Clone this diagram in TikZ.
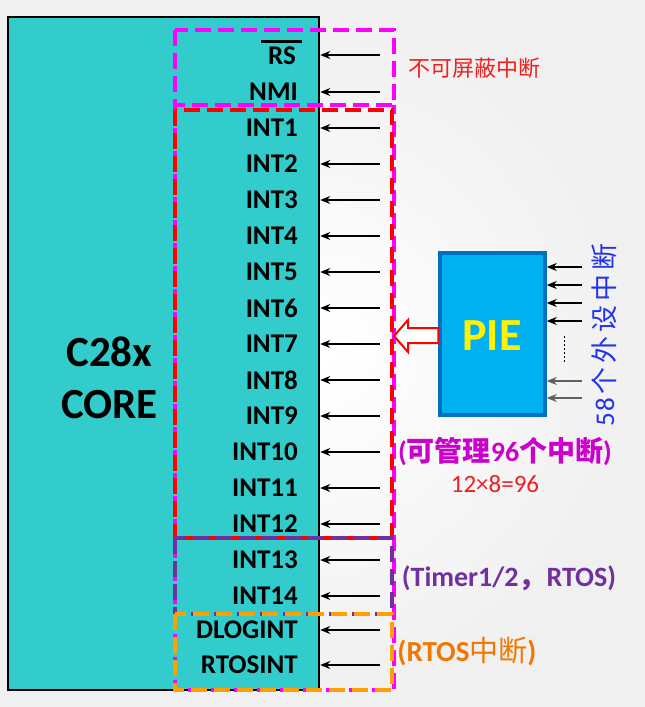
\documentclass[tikz,border=0pt]{standalone}
\usepackage{fontspec}
\setmainfont{Carlito}
\newfontfamily\cjk{Noto Sans CJK SC}
\usetikzlibrary{arrows.meta,calc}
\definecolor{teal28}{HTML}{33CCCC}
\definecolor{piefill}{HTML}{00B0F0}
\definecolor{pieedge}{HTML}{0070C0}
\definecolor{magc}{HTML}{FF00FF}
\definecolor{redc}{HTML}{FF0000}
\definecolor{purc}{HTML}{7030A0}
\definecolor{orgc}{HTML}{FFA000}
\definecolor{orgt}{HTML}{F07800}
\definecolor{magt}{HTML}{CC00CC}
\definecolor{redt}{HTML}{F02020}
\definecolor{bluet}{HTML}{2233EE}
\definecolor{grayarr}{HTML}{606060}
\tikzset{
  corebox/.style={draw=black,line width=2.5pt,fill=teal28,inner sep=0pt},
  dbox/.style={line width=4.5pt,dash pattern=on 16pt off 7pt},
  lbl/.style={anchor=east,font=\fontsize{27}{27}\selectfont\bfseries,inner sep=0pt},
  arr/.style={line width=1.6pt,-{Stealth[length=10pt,width=8pt]}},
  piebox/.style={draw=pieedge,line width=3.5pt,fill=piefill,inner sep=0pt},
  note/.style={inner sep=0pt}
}
\begin{document}
\begin{tikzpicture}[x=1pt,y=-1pt]
\useasboundingbox (0,0) rectangle (645,707);
\shade[inner color=white,outer color=black!6] (0,0) rectangle (645,707);
% core
\node[corebox,minimum width=311pt,minimum height=673pt] (core) at (163.5,353.5) {};
\node[font=\fontsize{43}{52}\selectfont\bfseries,align=center,inner sep=0pt] (corename) at (109.5,378) {C28x\\CORE};
% dashed boxes
\draw[dbox,magc] (175,105) -- (175,690) -- (394,690) -- (394,105);
\draw[dbox,magc] (175,30) rectangle (394,105);
\draw[dbox,redc] (175,110) rectangle (392,538);
\draw[dbox,purc] (175,538) rectangle (392,614);
\draw[dbox,orgc] (175,614) rectangle (392,690);
% labels and arrows
\node[lbl] (l0) at (296,56) {RS};
\coordinate (ov1) at (261,41);
\coordinate (ov2) at (302,41);
\draw[line width=3pt] (ov1) -- (ov2);
\foreach \t/\y [count=\i] in {NMI/92,INT1/128,INT2/164,INT3/200,INT4/236,INT5/272,INT6/308,INT7/344,INT8/380,INT9/416,INT10/452,INT11/488,INT12/524,INT13/560,INT14/596,DLOGINT/630,RTOSINT/665}{
  \node[lbl] (l\i) at (298,\y) {\t};
}
\foreach \y [count=\i from 0] in {55,92,128,164,200,236,272,308,344,380,416,452,488,524,560,596,630,665}{
  \coordinate (s\i) at (380,\y);
  \draw[arr] (s\i) -- (s\i -| core.east);
}
% PIE
\node[piebox,minimum width=105pt,minimum height=162pt] (pie) at (492.5,334) {};
\node[font=\fontsize{46}{46}\selectfont\bfseries,text=yellow,inner sep=0pt] (pielbl) at (492,336) {PIE};
\draw[redc,line width=2pt,fill=white] (pie.west |- 0,328) -- (408,328) -- (408,320) -- (394,336) -- (408,352) -- (408,343) -- (pie.west |- 0,343) -- cycle;
\foreach \y [count=\i] in {267,285,303,321}{
  \coordinate (p\i) at (582,\y);
  \draw[arr] (p\i) -- (p\i -| pie.east);
}
\foreach \y [count=\i from 5] in {381,398}{
  \coordinate (p\i) at (582,\y);
  \draw[arr,grayarr] (p\i) -- (p\i -| pie.east);
}
\coordinate (d1) at (564,336);
\coordinate (d2) at (564,362);
\draw[line width=0.8pt,dash pattern=on 2pt off 2pt] (d1) -- (d2);
\node[rotate=90,text=bluet,font=\fontsize{27}{27}\selectfont,inner sep=0pt] (ext) at (604,335) {5\hspace{1pt}8\hspace{3pt}{\cjk 个\hspace{4pt}外\hspace{4pt}设\hspace{4pt}中\hspace{4pt}断}};
% notes
\node[note,text=redt,font=\fontsize{22}{22}\selectfont] (n1) at (474,68) {\cjk 不可屏蔽中断};
\node[note,text=magt,font=\fontsize{28}{28}\selectfont\bfseries] (n2) at (505,452) {({\cjk 可管理}96{\cjk 个中断})};
\node[note,text=redt,font=\fontsize{25}{25}\selectfont] (n3) at (495,484) {12×8=96};
\node[note,text=purc,font=\fontsize{28}{28}\selectfont\bfseries] (n4) at (509,578) {(Timer1/2{\cjk ，}RTOS)};
\node[note,text=orgt,font=\fontsize{29}{29}\selectfont\bfseries] (n5) at (467,651) {(RTOS{\cjk\mdseries 中断})};
\end{tikzpicture}
\end{document}
